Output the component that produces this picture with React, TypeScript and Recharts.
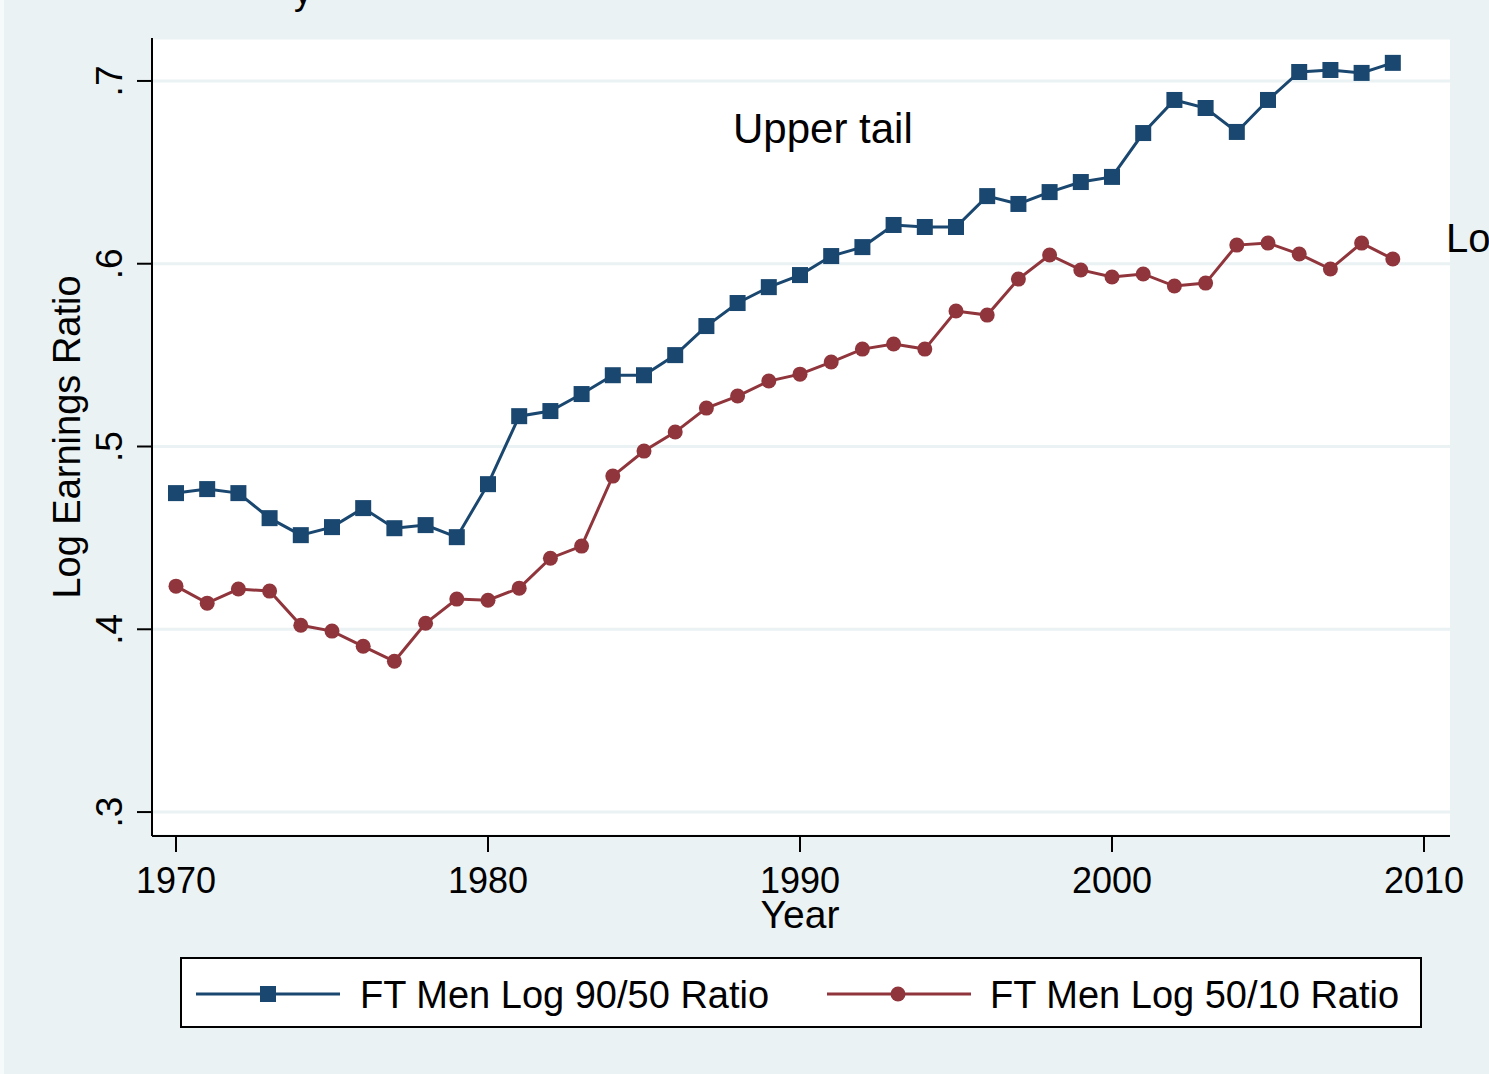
import React from "react";
import {
  CartesianGrid,
  Legend,
  Line,
  LineChart,
  XAxis,
  YAxis,
} from "recharts";

const years = [
  1970, 1971, 1972, 1973, 1974, 1975, 1976, 1977, 1978, 1979,
  1980, 1981, 1982, 1983, 1984, 1985, 1986, 1987, 1988, 1989,
  1990, 1991, 1992, 1993, 1994, 1995, 1996, 1997, 1998, 1999,
  2000, 2001, 2002, 2003, 2004, 2005, 2006, 2007, 2008, 2009,
];

const ratio9050 = [
  0.4745, 0.4767, 0.4745, 0.4608, 0.4515, 0.4559, 0.4663, 0.4553, 0.457, 0.4504,
  0.4794, 0.5166, 0.5194, 0.5287, 0.539, 0.539, 0.55, 0.5659, 0.5785, 0.5872,
  0.5938, 0.6042, 0.6091, 0.6212, 0.6201, 0.6201, 0.637, 0.6327, 0.6392, 0.6447,
  0.6475, 0.6715, 0.6896, 0.6852, 0.6721, 0.6896, 0.7049, 0.706, 0.7044, 0.7099,
];

const ratio5010 = [
  0.4236, 0.4143, 0.422, 0.4209, 0.4022, 0.399, 0.3907, 0.3825, 0.4033, 0.4165,
  0.4159, 0.4225, 0.4389, 0.4455, 0.4838, 0.4975, 0.5079, 0.521, 0.5276, 0.5358,
  0.5396, 0.5462, 0.5533, 0.5561, 0.5533, 0.5741, 0.5719, 0.5916, 0.6048, 0.5966,
  0.5927, 0.5944, 0.5878, 0.5894, 0.6102, 0.6113, 0.6053, 0.5971, 0.6113, 0.6026,
];

const yTicks = [0.3, 0.4, 0.5, 0.6, 0.7];
const yTickLabels = [".3", ".4", ".5", ".6", ".7"];
const xTicks = [1970, 1980, 1990, 2000, 2010];

const BLUE = "#1a476f";
const RED = "#90353b";
const BG = "#eaf2f3";
const FONT = "'Liberation Sans', Arial, sans-serif";

const data = years.map((year, i) => ({
  year,
  upper: ratio9050[i],
  lower: ratio5010[i],
}));

function SquareDot(props: any) {
  const { cx, cy } = props;
  if (cx == null || cy == null) return null;
  return <rect x={cx - 8} y={cy - 8} width={16} height={16} fill={BLUE} />;
}

function CircleDot(props: any) {
  const { cx, cy } = props;
  if (cx == null || cy == null) return null;
  return <circle cx={cx} cy={cy} r={7.5} fill={RED} />;
}

function YTick(props: any) {
  const { y, payload } = props;
  const idx = yTicks.indexOf(payload.value);
  const label = idx >= 0 ? yTickLabels[idx] : String(payload.value);
  return (
    <text
      x={122}
      y={y}
      transform={`rotate(-90, 122, ${y})`}
      textAnchor="middle"
      fontSize={37}
      fontFamily={FONT}
      fill="#000"
    >
      {label}
    </text>
  );
}

function XTick(props: any) {
  const { x, payload } = props;
  return (
    <text x={x} y={893} textAnchor="middle" fontSize={36} fontFamily={FONT} fill="#000">
      {payload.value}
    </text>
  );
}

function LegendBox() {
  return (
    <div
      style={{
        position: "absolute",
        left: 180,
        top: 957,
        width: 1238,
        height: 67,
        border: "2px solid #000",
        background: "#fff",
      }}
    >
      <svg width={1238} height={67} style={{ position: "absolute", left: 0, top: 0 }}>
        <line x1={14} x2={158} y1={35} y2={35} stroke={BLUE} strokeWidth={3} />
        <rect x={78} y={27} width={16} height={16} fill={BLUE} />
        <text x={178} y={49} fontSize={38} fontFamily={FONT} fill="#000">
          FT Men Log 90/50 Ratio
        </text>
        <line x1={645} x2={789} y1={35} y2={35} stroke={RED} strokeWidth={3} />
        <circle cx={716} cy={35} r={7.5} fill={RED} />
        <text x={808} y={49} fontSize={38} fontFamily={FONT} fill="#000">
          FT Men Log 50/10 Ratio
        </text>
      </svg>
    </div>
  );
}

export default function App() {
  return (
    <div
      style={{
        position: "fixed",
        left: 0,
        top: 0,
        width: 1489,
        height: 1074,
        background: BG,
        overflow: "hidden",
        fontFamily: FONT,
      }}
    >
      <div style={{ position: "absolute", left: 0, top: 0, width: 4, height: 1074, background: "#f7fafa" }} />
      <LineChart
        width={1489}
        height={1074}
        data={data}
        margin={{ top: 38, right: 39, left: 72, bottom: 178 }}
      >
        <CartesianGrid
          vertical={false}
          stroke={BG}
          strokeWidth={3}
          fill="#ffffff"
          fillOpacity={1}
        />
        <XAxis
          dataKey="year"
          type="number"
          domain={[1969.231, 2010.833]}
          ticks={xTicks}
          allowDataOverflow
          height={60}
          axisLine={{ stroke: "#000", strokeWidth: 2 }}
          tickLine={{ stroke: "#000", strokeWidth: 2 }}
          tickSize={16}
          tick={<XTick />}
          interval={0}
        />
        <YAxis
          type="number"
          domain={[0.2869, 0.7235]}
          ticks={yTicks}
          allowDataOverflow
          width={80}
          axisLine={{ stroke: "#000", strokeWidth: 2 }}
          tickLine={{ stroke: "#000", strokeWidth: 2 }}
          tickSize={15}
          tick={<YTick />}
          interval={0}
        />
        <Legend content={() => null} />
        <Line
          type="linear"
          dataKey="upper"
          stroke={BLUE}
          strokeWidth={3}
          dot={<SquareDot />}
          activeDot={false}
          isAnimationActive={false}
        />
        <Line
          type="linear"
          dataKey="lower"
          stroke={RED}
          strokeWidth={3}
          dot={<CircleDot />}
          activeDot={false}
          isAnimationActive={false}
        />
      </LineChart>
      <svg width={1489} height={1074} style={{ position: "absolute", left: 0, top: 0, pointerEvents: "none" }}>
        <text x={294} y={4} fontSize={36} fontFamily={FONT} fill="#000">y</text>
        <text x={733} y={143} fontSize={42} fontFamily={FONT} fill="#000">Upper tail</text>
        <text x={1446} y={252} fontSize={40} fontFamily={FONT} fill="#000">Lo</text>
        <text x={800} y={928} textAnchor="middle" fontSize={39} fontFamily={FONT} fill="#000">Year</text>
        <text
          x={80}
          y={437}
          transform="rotate(-90, 80, 437)"
          textAnchor="middle"
          fontSize={38}
          fontFamily={FONT}
          fill="#000"
        >
          Log Earnings Ratio
        </text>
      </svg>
      <LegendBox />
    </div>
  );
}
